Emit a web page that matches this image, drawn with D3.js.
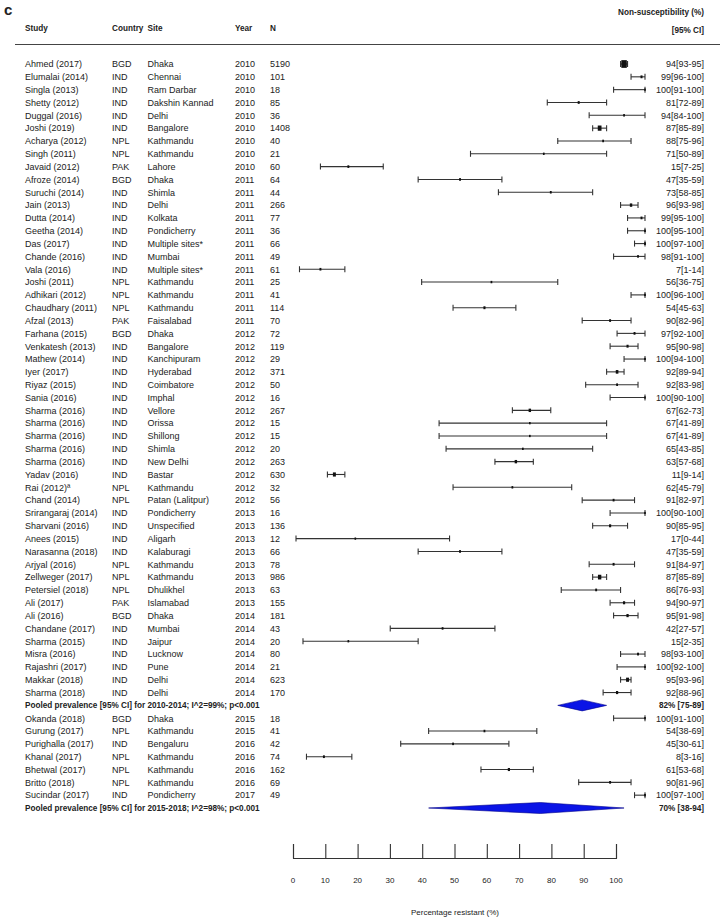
<!DOCTYPE html>
<html>
<head>
<meta charset="utf-8">
<script src="https://cdn.jsdelivr.net/npm/d3@7"></script>
<style>
  body { margin: 0; background: #fff; }
  svg { font-family: "Liberation Sans", Arial, sans-serif; }
</style>
</head>
<body>
<svg id="chart" width="720" height="922"></svg>
<script>
const studies = [
  "Ahmed (2017)", "Elumalai (2014)", "Singla (2013)", "Shetty (2012)", "Duggal (2016)",
  "Joshi (2019)", "Acharya (2012)", "Singh (2011)", "Javaid (2012)", "Afroze (2014)",
  "Suruchi (2014)", "Jain (2013)", "Dutta (2014)", "Geetha (2014)", "Das (2017)",
  "Chande (2016)", "Vala (2016)", "Joshi (2011)", "Adhikari (2012)", "Chaudhary (2011)",
  "Afzal (2013)", "Farhana (2015)", "Venkatesh (2013)", "Mathew (2014)", "Iyer (2017)",
  "Riyaz (2015)", "Sania (2016)", "Sharma (2016)", "Sharma (2016)", "Sharma (2016)",
  "Sharma (2016)", "Sharma (2016)", "Yadav (2016)", "Rai (2012)ª", "Chand (2014)",
  "Srirangaraj (2014)", "Sharvani (2016)", "Anees (2015)", "Narasanna (2018)", "Arjyal (2016)",
  "Zellweger (2017)", "Petersiel (2018)", "Ali (2017)", "Ali (2016)", "Chandane (2017)",
  "Sharma (2015)", "Misra (2016)", "Rajashri (2017)", "Makkar (2018)", "Sharma (2018)",
  "Okanda (2018)", "Gurung (2017)", "Purighalla (2017)", "Khanal (2017)", "Bhetwal (2017)",
  "Britto (2018)", "Sucindar (2017)"
];
const countries = [
  "BGD","IND","IND","IND","IND","IND","NPL","NPL","PAK","BGD",
  "IND","IND","IND","IND","IND","IND","IND","NPL","NPL","NPL",
  "PAK","BGD","IND","IND","IND","IND","IND","IND","IND","IND",
  "IND","IND","IND","NPL","NPL","IND","IND","IND","IND","NPL",
  "NPL","NPL","PAK","BGD","IND","IND","IND","IND","IND","IND",
  "BGD","NPL","IND","NPL","NPL","NPL","IND"
];
const sites = [
  "Dhaka","Chennai","Ram Darbar","Dakshin Kannad","Delhi","Bangalore","Kathmandu","Kathmandu","Lahore","Dhaka",
  "Shimla","Delhi","Kolkata","Pondicherry","Multiple sites*","Mumbai","Multiple sites*","Kathmandu","Kathmandu","Kathmandu",
  "Faisalabad","Dhaka","Bangalore","Kanchipuram","Hyderabad","Coimbatore","Imphal","Vellore","Orissa","Shillong",
  "Shimla","New Delhi","Bastar","Kathmandu","Patan (Lalitpur)","Pondicherry","Unspecified","Aligarh","Kalaburagi","Kathmandu",
  "Kathmandu","Dhulikhel","Islamabad","Dhaka","Mumbai","Jaipur","Lucknow","Pune","Delhi","Delhi",
  "Dhaka","Kathmandu","Bengaluru","Kathmandu","Kathmandu","Kathmandu","Pondicherry"
];
const years = [
  2010,2010,2010,2010,2010,2010,2010,2010,2010,2011,
  2011,2011,2011,2011,2011,2011,2011,2011,2011,2011,
  2011,2012,2012,2012,2012,2012,2012,2012,2012,2012,
  2012,2012,2012,2012,2012,2013,2013,2013,2013,2013,
  2013,2013,2013,2014,2014,2014,2014,2014,2014,2014,
  2015,2015,2016,2016,2016,2016,2017
];
const sampleSizes = [
  5190,101,18,85,36,1408,40,21,60,64,
  44,266,77,36,66,49,61,25,41,114,
  70,72,119,29,371,50,16,267,15,15,
  20,263,630,32,56,16,136,12,66,78,
  986,63,155,181,43,20,80,21,623,170,
  18,41,42,74,162,69,49
];
const estimates = [
  94,99,100,81,94,87,88,71,15,47,
  73,96,99,100,100,98,7,56,100,54,
  90,97,95,100,92,92,100,67,67,67,
  65,63,11,62,91,100,90,17,47,91,
  87,86,94,95,42,15,98,100,95,92,
  100,54,45,8,61,90,100
];
const lowers = [
  93,96,91,72,84,85,75,50,7,35,
  58,93,95,95,97,91,1,36,96,45,
  82,92,90,94,89,83,90,62,41,41,
  43,57,9,45,82,90,85,0,35,84,
  85,76,90,91,27,2,93,92,93,88,
  91,38,30,3,53,81,97
];
const uppers = [
  95,100,100,89,100,89,96,89,25,59,
  85,98,100,100,100,100,14,75,100,63,
  96,100,98,100,94,98,100,73,89,89,
  85,68,14,79,97,100,95,44,59,97,
  89,93,97,98,57,35,100,100,96,96,
  100,69,61,16,68,96,100
];

const pooledLabels = [
  "Pooled prevalence [95% CI] for 2010-2014; I^2=99%; p<0.001",
  "Pooled prevalence [95% CI] for 2015-2018; I^2=98%; p<0.001"
];
const pooledEstimates = [82, 70];
const pooledLowers = [75, 38];
const pooledUppers = [89, 94];
const pooledAfter = [50, 57]; // number of studies listed before each pooled row

const axisTicks = [0, 10, 20, 30, 40, 50, 60, 70, 80, 90, 100];

// build row order: studies with pooled rows slotted in
const rows = [];
studies.forEach((s, i) => {
  rows.push({type: "study", i});
  pooledAfter.forEach((n, p) => { if (n === i + 1) rows.push({type: "pooled", i: p}); });
});
rows.forEach((r, k) => r.row = k);

const svg = d3.select("#chart");
const ink = "#222";
const boldSize = 8.2;

const yScale = d3.scaleLinear().domain([0, rows.length - 1]).range([64, 808]);
// CI marks and the printed axis were laid out on slightly different scales in the figure
const xScale = d3.scaleLinear().domain([0, 100]).range([296, 645]);
const axisScale = d3.scaleLinear().domain([0, 100]).range([293, 616]);

// header
svg.append("text").attr("x", 4).attr("y", 15).attr("font-size", 15).attr("font-weight", "bold")
  .attr("fill", ink).text("c");
const head = svg.append("g").attr("font-size", boldSize).attr("font-weight", "bold").attr("fill", ink);
[["Study", 25], ["Country", 112], ["Site", 147.5], ["Year", 235], ["N", 270]].forEach(([t, x]) => {
  head.append("text").attr("x", x).attr("y", 31).text(t);
});
head.append("text").attr("x", 704).attr("y", 15).attr("text-anchor", "end").text("Non-susceptibility (%)");
head.append("text").attr("x", 704).attr("y", 33).attr("text-anchor", "end").text("[95% CI]");
svg.append("line").attr("x1", 15).attr("x2", 720).attr("y1", 44.5).attr("y2", 44.5)
  .attr("stroke", "#444").attr("stroke-width", 1.2);

// text columns
const txt = svg.append("g").attr("font-size", 9).attr("fill", ink);
const studyRows = rows.filter(r => r.type === "study");
const cols = [
  [d => studies[d.i], 25],
  [d => countries[d.i], 112],
  [d => sites[d.i], 147.5],
  [d => years[d.i], 235],
  [d => sampleSizes[d.i], 270]
];
cols.forEach(([fn, x]) => {
  txt.selectAll(null).data(studyRows).enter().append("text")
    .attr("x", x).attr("y", d => yScale(d.row) + 3.3).text(fn);
});
txt.selectAll(null).data(studyRows).enter().append("text")
  .attr("x", 704).attr("y", d => yScale(d.row) + 3.3).attr("text-anchor", "end")
  .text(d => `${estimates[d.i]}[${lowers[d.i]}-${uppers[d.i]}]`);

const pooledRows = rows.filter(r => r.type === "pooled");
txt.selectAll(null).data(pooledRows).enter().append("text")
  .attr("x", 25).attr("y", d => yScale(d.row) + 3.1).attr("font-weight", "bold").attr("font-size", boldSize)
  .text(d => pooledLabels[d.i]);
txt.selectAll(null).data(pooledRows).enter().append("text")
  .attr("x", 704).attr("y", d => yScale(d.row) + 3.1).attr("text-anchor", "end")
  .attr("font-weight", "bold").attr("font-size", boldSize)
  .text(d => `${pooledEstimates[d.i]}% [${pooledLowers[d.i]}-${pooledUppers[d.i]}]`);

// CI whiskers
const ci = svg.append("g").attr("stroke", "#333").attr("stroke-width", 1.1);
ci.selectAll(null).data(studyRows).enter().append("line")
  .attr("x1", d => xScale(lowers[d.i])).attr("x2", d => xScale(uppers[d.i]))
  .attr("y1", d => yScale(d.row)).attr("y2", d => yScale(d.row));
["lo", "hi"].forEach(side => {
  ci.selectAll(null).data(studyRows).enter().append("line")
    .attr("x1", d => xScale(side === "lo" ? lowers[d.i] : uppers[d.i]))
    .attr("x2", d => xScale(side === "lo" ? lowers[d.i] : uppers[d.i]))
    .attr("y1", d => yScale(d.row) - 3).attr("y2", d => yScale(d.row) + 3);
});

// point markers, sized by sample size
const mSize = n => Math.min(5.5, 1.4 + Math.sqrt(n) / 16);
svg.append("g").attr("fill", "#111").selectAll("rect").data(studyRows).enter().append("rect")
  .attr("x", d => xScale(estimates[d.i]) - mSize(sampleSizes[d.i]) / 2)
  .attr("y", d => yScale(d.row) - mSize(sampleSizes[d.i]) * 0.7)
  .attr("width", d => mSize(sampleSizes[d.i]))
  .attr("height", d => mSize(sampleSizes[d.i]) * 1.4);

// pooled diamonds
svg.append("g").selectAll("path").data(pooledRows).enter().append("path")
  .attr("d", d => {
    const y = yScale(d.row);
    return `M${xScale(pooledLowers[d.i])},${y}L${xScale(pooledEstimates[d.i])},${y - 5.5}` +
      `L${xScale(pooledUppers[d.i])},${y}L${xScale(pooledEstimates[d.i])},${y + 5.5}Z`;
  })
  .attr("fill", "#0a14e6").attr("stroke", "#00008a").attr("stroke-width", 0.6);

// bottom axis
const axisG = svg.append("g").attr("transform", "translate(0,858)")
  .call(d3.axisTop(axisScale).tickValues(axisTicks).tickSize(14).tickFormat(""));
axisG.select(".domain").attr("stroke", "#333").attr("stroke-width", 1.1);
axisG.selectAll(".tick line").attr("stroke", "#333").attr("stroke-width", 1.1);
svg.append("g").attr("font-size", 8).attr("fill", ink).selectAll("text").data(axisTicks).enter().append("text")
  .attr("x", d => axisScale(d)).attr("y", 883).attr("text-anchor", "middle").text(d => d);
svg.append("text").attr("x", 455).attr("y", 915).attr("text-anchor", "middle")
  .attr("font-size", 8).attr("fill", ink).text("Percentage resistant (%)");
</script>
</body>
</html>
